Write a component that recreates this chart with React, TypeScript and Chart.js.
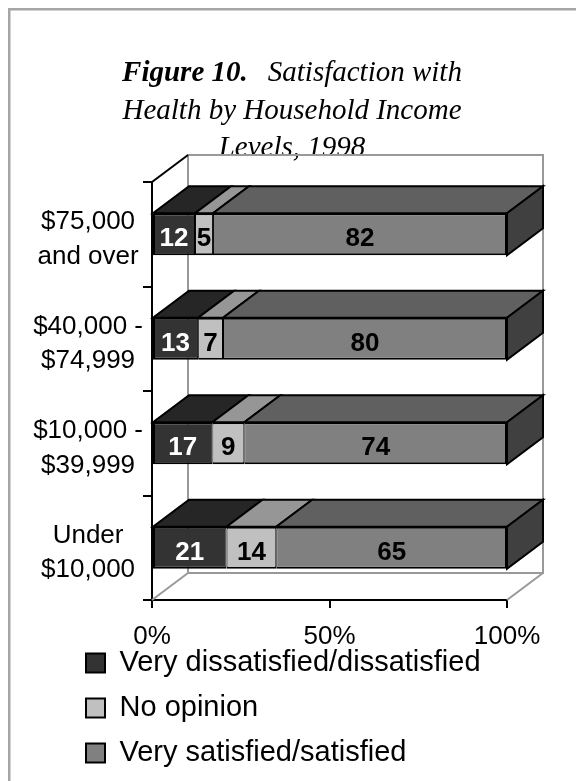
import React, { useEffect, useRef } from 'react';
import { Chart, registerables } from 'chart.js';

Chart.register(...registerables);

// ---- Data ----
const categories: string[][] = [
  ['$75,000', 'and over'],
  ['$40,000 -', '$74,999'],
  ['$10,000 -', '$39,999'],
  ['Under', '$10,000'],
];
const seriesNames = ['Very dissatisfied/dissatisfied', 'No opinion', 'Very satisfied/satisfied'];
const dissatisfied = [12, 13, 17, 21];
const noOpinion = [5, 7, 9, 14];
const satisfied = [82, 80, 74, 65];
const xTickStep = 50;
const titleBold = 'Figure 10.';
const titleRest = 'Satisfaction with';
const titleLines = ['Health by Household Income', 'Levels, 1998'];

// ---- Styles ----
const SANS = '"Liberation Sans", Arial, sans-serif';
const SERIF = '"Liberation Serif", "Times New Roman", serif';
const FRONT = ['#333333', '#c0c0c0', '#808080'];
const TOP = ['#262626', '#969696', '#606060'];
const SIDE = ['#1c1c1c', '#808080', '#404040'];
const LABEL_COLORS = ['#ffffff', '#000000', '#000000'];
const DX = 36;
const DY = -27;

const series = [dissatisfied, noOpinion, satisfied];
const totals = categories.map((_, i) => series.reduce((s, arr) => s + arr[i], 0));
const asPercent = (arr: number[]) => arr.map((v, i) => (v / totals[i]) * 100);

const threeD = {
  id: 'threeD',
  afterLayout(chart: any) {
    const lg = chart.legend;
    if (!lg) return;
    const h = 145;
    lg.top = 632.5;
    lg.height = h;
    lg.bottom = lg.top + h;
    lg.left = 70;
    lg.right = lg.left + lg.width;
  },
  beforeDraw(chart: any) {
    const ctx = chart.ctx as CanvasRenderingContext2D;
    ctx.save();
    // outer frame (left & top visible)
    ctx.fillStyle = '#a6a6a6';
    ctx.fillRect(8, 8, 2.5, chart.height);
    ctx.fillRect(8, 8, chart.width, 2.5);
    // title
    ctx.fillStyle = '#000';
    ctx.textBaseline = 'alphabetic';
    const cx = 292;
    const boldFont = `italic bold 29px ${SERIF}`;
    const itFont = `italic 29px ${SERIF}`;
    ctx.font = boldFont;
    const wb = ctx.measureText(titleBold).width;
    ctx.font = itFont;
    const wr = ctx.measureText(titleRest).width;
    const gap = 20;
    const start = cx - (wb + gap + wr) / 2;
    ctx.textAlign = 'left';
    ctx.font = boldFont;
    ctx.fillText(titleBold, start, 81);
    ctx.font = itFont;
    ctx.fillText(titleRest, start + wb + gap, 81);
    ctx.textAlign = 'center';
    ctx.fillText(titleLines[0], cx, 119);
    ctx.fillText(titleLines[1], cx, 156);
    ctx.restore();
  },
  beforeDatasetsDraw(chart: any) {
    const ctx = chart.ctx as CanvasRenderingContext2D;
    const { left: L, right: R, top: T, bottom: B } = chart.chartArea;
    ctx.save();
    ctx.lineWidth = 2;
    ctx.strokeStyle = '#999999';
    ctx.beginPath();
    ctx.moveTo(L + DX, B + DY);
    ctx.lineTo(L + DX, T + DY);
    ctx.lineTo(R + DX, T + DY);
    ctx.lineTo(R + DX, B + DY);
    ctx.lineTo(L + DX, B + DY);
    ctx.moveTo(L, B);
    ctx.lineTo(L + DX, B + DY);
    ctx.moveTo(R, B);
    ctx.lineTo(R + DX, B + DY);
    ctx.stroke();
    ctx.strokeStyle = '#000';
    ctx.beginPath();
    ctx.moveTo(L, T);
    ctx.lineTo(L + DX, T + DY);
    ctx.stroke();
    ctx.restore();
  },
  afterDatasetsDraw(chart: any) {
    const ctx = chart.ctx as CanvasRenderingContext2D;
    ctx.save();
    ctx.lineWidth = 2;
    ctx.strokeStyle = '#000';
    ctx.lineJoin = 'miter';
    const nSets = chart.data.datasets.length;
    for (let i = 0; i < categories.length; i++) {
      for (let d = 0; d < nSets; d++) {
        const el = chart.getDatasetMeta(d).data[i];
        const p = el.getProps(['x', 'y', 'base', 'height'], true);
        const x0 = Math.min(p.x, p.base);
        const x1 = Math.max(p.x, p.base);
        const yt = p.y - p.height / 2;
        const yb = p.y + p.height / 2;
        ctx.fillStyle = TOP[d];
        ctx.beginPath();
        ctx.moveTo(x0, yt);
        ctx.lineTo(x1, yt);
        ctx.lineTo(x1 + DX, yt + DY);
        ctx.lineTo(x0 + DX, yt + DY);
        ctx.closePath();
        ctx.fill();
        ctx.stroke();
        if (d === nSets - 1) {
          ctx.fillStyle = SIDE[d];
          ctx.beginPath();
          ctx.moveTo(x1, yt);
          ctx.lineTo(x1 + DX, yt + DY);
          ctx.lineTo(x1 + DX, yb + DY);
          ctx.lineTo(x1, yb);
          ctx.closePath();
          ctx.fill();
          ctx.stroke();
        }
      }
    }
    // data labels
    ctx.font = `bold 26px ${SANS}`;
    ctx.textAlign = 'center';
    ctx.textBaseline = 'middle';
    for (let d = 0; d < nSets; d++) {
      const meta = chart.getDatasetMeta(d);
      const raw = series[d];
      meta.data.forEach((el: any, i: number) => {
        const p = el.getProps(['x', 'y', 'base'], true);
        ctx.fillStyle = LABEL_COLORS[d];
        ctx.fillText(String(raw[i]), (p.x + p.base) / 2, p.y + 5);
      });
    }
    ctx.restore();
  },
};

export default function App() {
  const ref = useRef<HTMLCanvasElement>(null);
  useEffect(() => {
    const canvas = ref.current;
    if (!canvas) return;
    const widths = [
      { top: 2, bottom: 2, left: 2, right: 1 },
      { top: 2, bottom: 2, left: 1, right: 1 },
      { top: 2, bottom: 2, left: 1, right: 2 },
    ];
    const chart = new Chart(canvas, {
      type: 'bar',
      data: {
        labels: categories,
        datasets: series.map((arr, d) => ({
          label: seriesNames[d],
          data: asPercent(arr),
          backgroundColor: FRONT[d],
          borderColor: '#000000',
          borderWidth: widths[d],
          borderSkipped: false,
          barPercentage: 1,
          categoryPercentage: 0.402,
        })),
      },
      options: {
        indexAxis: 'y',
        responsive: false,
        animation: false,
        events: [],
        layout: { padding: { left: 0, right: 69, top: 182, bottom: 0 } },
        scales: {
          x: {
            stacked: true,
            min: 0,
            max: 100,
            ticks: {
              stepSize: xTickStep,
              callback: (v: any) => `${v}%`,
              font: { family: SANS, size: 26 },
              color: '#000',
              padding: 13,
              maxRotation: 0,
            },
            grid: { drawOnChartArea: false, tickLength: 8, color: '#000', lineWidth: 2 },
            border: { color: '#000', width: 2 },
            afterFit: (s: any) => {
              s.height = 52;
            },
          },
          y: {
            stacked: true,
            ticks: {
              font: { family: SANS, size: 26, lineHeight: 1.33 },
              color: '#000',
              crossAlign: 'center',
              padding: 0,
              labelOffset: 5,
              autoSkip: false,
            },
            grid: { offset: true, drawOnChartArea: false, tickLength: 9, color: '#000', lineWidth: 2 },
            border: { color: '#000', width: 2 },
            afterFit: (s: any) => {
              s.width = 152;
            },
          },
        },
        plugins: {
          title: { display: false },
          tooltip: { enabled: false },
          legend: {
            position: 'bottom',
            align: 'start',
            maxHeight: 129,
            labels: {
              font: { family: SANS, size: 29 },
              color: '#000',
              boxWidth: 19,
              boxHeight: 19,
              padding: 16,
              generateLabels: (c: any) =>
                Chart.defaults.plugins.legend.labels.generateLabels(c).map((it: any) => ({
                  ...it,
                  lineWidth: 2,
                  strokeStyle: '#000',
                })),
            },
          },
        },
      } as any,
      plugins: [threeD],
    });
    return () => chart.destroy();
  }, []);
  return (
    <div style={{ position: 'absolute', left: 0, top: 0, width: 576, height: 781 }}>
      <canvas ref={ref} width={576} height={781} style={{ display: 'block' }} />
    </div>
  );
}
